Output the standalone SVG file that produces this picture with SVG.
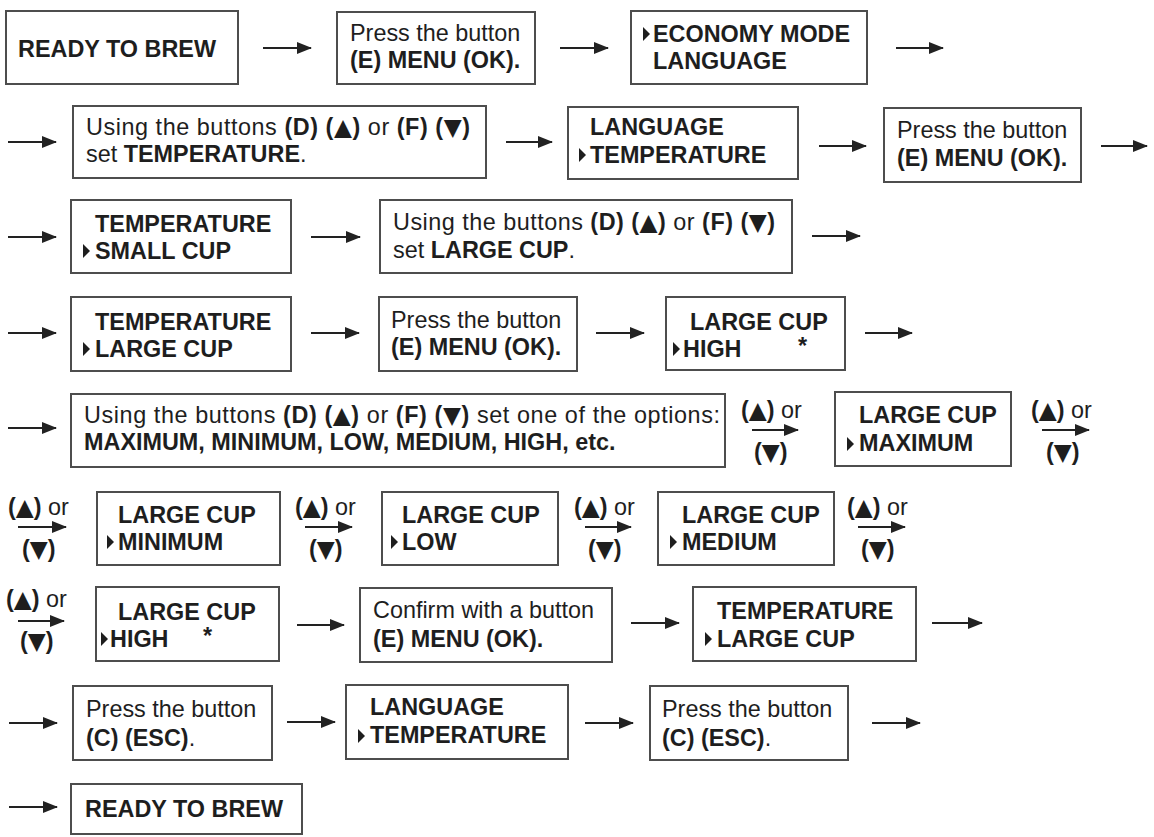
<svg xmlns="http://www.w3.org/2000/svg" width="1154" height="837" viewBox="0 0 1154 837">
<defs>
<marker id="ah" markerUnits="userSpaceOnUse" markerWidth="15" markerHeight="12" refX="14" refY="6" orient="auto">
<path d="M0,0 L15,6 L0,12 z" fill="#222"/>
</marker>
<style>
.box{fill:#fff;stroke:#4d4d4d;stroke-width:2}
.b{font-family:"Liberation Sans",Arial,sans-serif;font-weight:bold;font-size:23.4px;fill:#1e1e1e}
.r{font-family:"Liberation Sans",Arial,sans-serif;font-weight:normal;font-size:23.4px;fill:#1e1e1e}
.bt{font-weight:bold}
.sym{font-family:"DejaVu Sans",sans-serif;font-weight:bold}
.lr{font-weight:normal}
.tri{fill:#1e1e1e}
#connectors line{stroke:#222;stroke-width:2;marker-end:url(#ah)}
</style>
</defs>
<rect width="1154" height="837" fill="#fff"/>

<g id="connectors">
<line x1="263" y1="48" x2="311" y2="48"/>
<line x1="560" y1="48" x2="608" y2="48"/>
<line x1="896" y1="48" x2="943" y2="48"/>
<line x1="8" y1="142" x2="56" y2="142"/>
<line x1="506" y1="142" x2="552" y2="142"/>
<line x1="819" y1="146" x2="866" y2="146"/>
<line x1="1101" y1="146" x2="1147" y2="146"/>
<line x1="8" y1="237" x2="56" y2="237"/>
<line x1="311" y1="237" x2="360" y2="237"/>
<line x1="812" y1="236" x2="860" y2="236"/>
<line x1="8" y1="333" x2="56" y2="333"/>
<line x1="311" y1="333" x2="359" y2="333"/>
<line x1="596" y1="333" x2="644" y2="333"/>
<line x1="865" y1="333" x2="912" y2="333"/>
<line x1="8" y1="428" x2="56" y2="428"/>
<line x1="752" y1="430" x2="798" y2="430"/>
<line x1="1042" y1="430" x2="1089" y2="430"/>
<line x1="18" y1="527" x2="66" y2="527"/>
<line x1="305" y1="527" x2="352" y2="527"/>
<line x1="585" y1="527" x2="631" y2="527"/>
<line x1="858" y1="527" x2="905" y2="527"/>
<line x1="18" y1="621" x2="64" y2="621"/>
<line x1="297" y1="625" x2="344" y2="625"/>
<line x1="631" y1="623" x2="679" y2="623"/>
<line x1="932" y1="623" x2="982" y2="623"/>
<line x1="9" y1="723" x2="57" y2="723"/>
<line x1="287" y1="722" x2="335" y2="722"/>
<line x1="585" y1="723" x2="633" y2="723"/>
<line x1="872" y1="723" x2="920" y2="723"/>
<line x1="9" y1="807" x2="57" y2="807"/>
</g>

<g id="labels">
<text class="b" x="741" y="418">(<tspan class="sym">▲</tspan>)<tspan class="lr"> or</tspan></text>
<text class="b" x="754" y="460">(<tspan class="sym">▼</tspan>)</text>
<text class="b" x="1031" y="418">(<tspan class="sym">▲</tspan>)<tspan class="lr"> or</tspan></text>
<text class="b" x="1046" y="460">(<tspan class="sym">▼</tspan>)</text>
<text class="b" x="8" y="515">(<tspan class="sym">▲</tspan>)<tspan class="lr"> or</tspan></text>
<text class="b" x="22" y="557">(<tspan class="sym">▼</tspan>)</text>
<text class="b" x="295" y="515">(<tspan class="sym">▲</tspan>)<tspan class="lr"> or</tspan></text>
<text class="b" x="309" y="557">(<tspan class="sym">▼</tspan>)</text>
<text class="b" x="574" y="515">(<tspan class="sym">▲</tspan>)<tspan class="lr"> or</tspan></text>
<text class="b" x="588" y="557">(<tspan class="sym">▼</tspan>)</text>
<text class="b" x="847" y="515">(<tspan class="sym">▲</tspan>)<tspan class="lr"> or</tspan></text>
<text class="b" x="861" y="557">(<tspan class="sym">▼</tspan>)</text>
<text class="b" x="6" y="607">(<tspan class="sym">▲</tspan>)<tspan class="lr"> or</tspan></text>
<text class="b" x="20" y="649">(<tspan class="sym">▼</tspan>)</text>
</g>

<g id="n1"><rect class="box" x="6" y="11" width="232" height="73"/><text class="b" x="18" y="57">READY TO BREW</text></g>
<g id="n2"><rect class="box" x="337" y="12" width="198" height="72"/><text class="r" x="350" y="41">Press the button</text><text class="b" x="350" y="68">(E) MENU (OK).</text></g>
<g id="n3"><rect class="box" x="631" y="11" width="236" height="73"/><polygon class="tri" points="643,27 650,34 643,41"/><text class="b" x="653" y="42">ECONOMY MODE</text><text class="b" x="653" y="69">LANGUAGE</text></g>

<g id="n4"><rect class="box" x="73" y="106" width="413" height="72"/><text class="r" x="86" y="135" textLength="384" lengthAdjust="spacing">Using the buttons <tspan class="bt">(D) (<tspan class="sym">▲</tspan>)</tspan> or <tspan class="bt">(F) (<tspan class="sym">▼</tspan>)</tspan></text><text class="r" x="86" y="162">set <tspan class="bt">TEMPERATURE</tspan>.</text></g>
<g id="n5"><rect class="box" x="568" y="107" width="230" height="72"/><text class="b" x="590" y="135">LANGUAGE</text><polygon class="tri" points="579,148 586,155 579,162"/><text class="b" x="590" y="163">TEMPERATURE</text></g>
<g id="n6"><rect class="box" x="884" y="108" width="197" height="74"/><text class="r" x="897" y="138">Press the button</text><text class="b" x="897" y="166">(E) MENU (OK).</text></g>

<g id="n7"><rect class="box" x="71" y="200" width="220" height="73"/><text class="b" x="95" y="232">TEMPERATURE</text><polygon class="tri" points="83,244 90,251 83,258"/><text class="b" x="95" y="259">SMALL CUP</text></g>
<g id="n8"><rect class="box" x="380" y="200" width="412" height="73"/><text class="r" x="393" y="230" textLength="382" lengthAdjust="spacing">Using the buttons <tspan class="bt">(D) (<tspan class="sym">▲</tspan>)</tspan> or <tspan class="bt">(F) (<tspan class="sym">▼</tspan>)</tspan></text><text class="r" x="393" y="258">set <tspan class="bt">LARGE CUP</tspan>.</text></g>

<g id="n9"><rect class="box" x="71" y="297" width="220" height="74"/><text class="b" x="95" y="330">TEMPERATURE</text><polygon class="tri" points="83,342 90,349 83,356"/><text class="b" x="95" y="357">LARGE CUP</text></g>
<g id="n10"><rect class="box" x="379" y="297" width="198" height="74"/><text class="r" x="391" y="328">Press the button</text><text class="b" x="391" y="355">(E) MENU (OK).</text></g>
<g id="n11"><rect class="box" x="666" y="297" width="179" height="73"/><text class="b" x="690" y="330">LARGE CUP</text><polygon class="tri" points="673,342 680,349 673,356"/><text class="b" x="683" y="357">HIGH</text><text class="b" x="798" y="354" font-size="18">*</text></g>

<g id="n12"><rect class="box" x="71" y="394" width="654" height="73"/><text class="r" x="84" y="423" textLength="636" lengthAdjust="spacing">Using the buttons <tspan class="bt">(D) (<tspan class="sym">▲</tspan>)</tspan>  or <tspan class="bt">(F) (<tspan class="sym">▼</tspan>)</tspan>  set one of the options:</text><text class="b" x="84" y="450">MAXIMUM, MINIMUM, LOW, MEDIUM, HIGH, etc.</text></g>
<g id="n13"><rect class="box" x="835" y="392" width="176" height="74"/><text class="b" x="859" y="423">LARGE CUP</text><polygon class="tri" points="847,437 854,444 847,451"/><text class="b" x="859" y="451">MAXIMUM</text></g>

<g id="n14"><rect class="box" x="97" y="492" width="183" height="73"/><text class="b" x="118" y="523">LARGE CUP</text><polygon class="tri" points="107,535 114,542 107,549"/><text class="b" x="118" y="550">MINIMUM</text></g>
<g id="n15"><rect class="box" x="382" y="492" width="176" height="73"/><text class="b" x="402" y="523">LARGE CUP</text><polygon class="tri" points="391,535 398,542 391,549"/><text class="b" x="402" y="550">LOW</text></g>
<g id="n16"><rect class="box" x="658" y="492" width="176" height="73"/><text class="b" x="682" y="523">LARGE CUP</text><polygon class="tri" points="670,535 677,542 670,549"/><text class="b" x="682" y="550">MEDIUM</text></g>

<g id="n17"><rect class="box" x="96" y="587" width="183" height="74"/><text class="b" x="118" y="620">LARGE CUP</text><polygon class="tri" points="101,632 108,639 101,646"/><text class="b" x="110" y="647">HIGH</text><text class="b" x="203" y="644" font-size="18">*</text></g>
<g id="n18"><rect class="box" x="360" y="588" width="252" height="74"/><text class="r" x="373" y="618">Confirm with a button</text><text class="b" x="373" y="647">(E) MENU (OK).</text></g>
<g id="n19"><rect class="box" x="693" y="587" width="223" height="74"/><text class="b" x="717" y="619">TEMPERATURE</text><polygon class="tri" points="705,632 712,639 705,646"/><text class="b" x="717" y="647">LARGE CUP</text></g>

<g id="n20"><rect class="box" x="73" y="686" width="199" height="74"/><text class="r" x="86" y="717">Press the button</text><text class="r" x="86" y="746"><tspan class="bt">(C) (ESC)</tspan>.</text></g>
<g id="n21"><rect class="box" x="346" y="685" width="222" height="74"/><text class="b" x="370" y="715">LANGUAGE</text><polygon class="tri" points="358,729 365,736 358,743"/><text class="b" x="370" y="743">TEMPERATURE</text></g>
<g id="n22"><rect class="box" x="650" y="686" width="198" height="74"/><text class="r" x="662" y="717">Press the button</text><text class="r" x="662" y="746"><tspan class="bt">(C) (ESC)</tspan>.</text></g>

<g id="n23"><rect class="box" x="71" y="784" width="231" height="50"/><text class="b" x="85" y="817">READY TO BREW</text></g>
</svg>
